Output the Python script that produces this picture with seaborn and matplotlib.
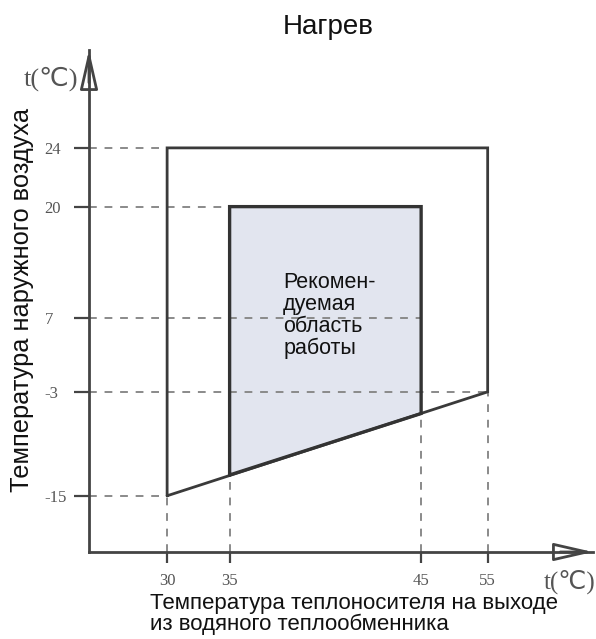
import numpy as np
import matplotlib
matplotlib.use('Agg')
import matplotlib.pyplot as plt
import seaborn as sns

# values
x_ticks = [30, 35, 45, 55]
y_ticks = [-15, -3, 7, 20, 24]

# outer operating range
outer_x = [30, 30, 55, 55, 30]
outer_y = [-15, 24, 24, -3, -15]

# recommended range (shaded)
inner_x = [35, 35, 45, 45, 35]
inner_y = [-12.6, 20, 20, -5.5, -12.6]

# dashed guide lines
guide_h_y = [24, 20, 7, -3, -15]
guide_h_to = [30, 35, 45, 55, 30]
guide_v_x = [30, 35, 45, 55]
guide_v_from = [-15, -12.6, -5.5, -3]

x_lim = (20, 65)
y_lim = (-25, 32)

# schematic is not to scale -> piecewise axis (fraction of axes length)
x_anchor = [x_lim[0]] + x_ticks + [x_lim[1]]
x_frac = [0, 0.155, 0.279, 0.659, 0.791, 1.0]
y_anchor = [y_lim[0]] + y_ticks + [y_lim[1]]
y_frac = [0, 0.112, 0.319, 0.4655, 0.688, 0.805, 1.0]

sns.set_style('white')
plt.rcParams['font.family'] = ['Liberation Sans', 'DejaVu Sans']

line_col = '#3a3a3a'
axis_col = '#444444'
dash_col = '#8a8a8a'
fill_col = '#e2e5ef'
serif = ['Liberation Serif', 'DejaVu Sans']

W, H = 596, 639
fig = plt.figure(figsize=(W / 100, H / 100), dpi=100)
ax = fig.add_axes([89 / W, (H - 552) / H, (593 - 89) / W, (552 - 50) / H])

ax.set_xscale('function', functions=(lambda v: np.interp(v, x_anchor, x_frac),
                                     lambda f: np.interp(f, x_frac, x_anchor)))
ax.set_yscale('function', functions=(lambda v: np.interp(v, y_anchor, y_frac),
                                     lambda f: np.interp(f, y_frac, y_anchor)))
ax.set_xlim(*x_lim)
ax.set_ylim(*y_lim)

ax.fill(inner_x, inner_y, color=fill_col, lw=0, zorder=1)

dash = (0, (4, 4))
ax.hlines(guide_h_y, x_lim[0], guide_h_to, colors=dash_col, lw=1.4, linestyles=dash, zorder=2)
ax.vlines(guide_v_x, y_lim[0], guide_v_from, colors=dash_col, lw=1.4, linestyles=dash, zorder=2)

sns.lineplot(x=outer_x, y=outer_y, sort=False, estimator=None, color=line_col,
             lw=2.0, ax=ax, zorder=3, solid_joinstyle='miter')
sns.lineplot(x=inner_x, y=inner_y, sort=False, estimator=None, color='#333333',
             lw=2.4, ax=ax, zorder=4, solid_joinstyle='miter')

ax.text(37.8, 12.4, 'Рекомен-\nдуемая\nобласть\nработы', fontsize=15.5,
        va='top', ha='left', linespacing=1.05, color='#111111', zorder=5)

# axes with arrow heads
for side in ['top', 'right']:
    ax.spines[side].set_visible(False)
for side in ['left', 'bottom']:
    ax.spines[side].set_color(axis_col)
    ax.spines[side].set_linewidth(2.0)
ax.annotate('', xy=(0, 1), xytext=(0, 0.935), xycoords='axes fraction',
            arrowprops=dict(arrowstyle='-|>,head_length=2.4,head_width=0.55',
                            ec=axis_col, fc='none', lw=2.0, shrinkA=0, shrinkB=0))
ax.annotate('', xy=(1, 0), xytext=(0.935, 0), xycoords='axes fraction',
            arrowprops=dict(arrowstyle='-|>,head_length=2.4,head_width=0.55',
                            ec=axis_col, fc='none', lw=2.0, shrinkA=0, shrinkB=0))

ax.set_xticks(x_ticks)
ax.set_yticks(y_ticks)
ax.set_xticklabels([str(v) for v in x_ticks], family=serif, fontsize=12, color='#555555')
ax.set_yticklabels([str(v) for v in y_ticks], family=serif, fontsize=12, color='#555555',
                   ha='left')
ax.tick_params(axis='x', direction='out', length=8, width=1.6, color=axis_col, pad=7,
               bottom=True)
ax.tick_params(axis='y', direction='out', length=11, width=1.6, color=axis_col, pad=21,
               left=True)
ax.grid(False)

fig.text(328 / W, 1 - 27 / H, 'Нагрев', fontsize=20, ha='center', va='center', color='#111111')
fig.text(51 / W, 1 - 79 / H, 't(℃)', fontsize=19, ha='center', va='center',
         family=serif, color='#555555')
fig.text(570 / W, 1 - 582 / H, 't(℃)', fontsize=18, ha='center', va='center',
         family=serif, color='#555555')
fig.text(22 / W, 1 - 300 / H, 'Температура наружного воздуха', fontsize=18.3,
         rotation=90, ha='center', va='center', color='#111111')
fig.text(150 / W, 1 - 593 / H, 'Температура теплоносителя на выходе\nиз водяного теплообменника',
         fontsize=16, ha='left', va='top', linespacing=0.98, color='#111111')

fig.savefig('out.png', dpi=100, facecolor='white')
